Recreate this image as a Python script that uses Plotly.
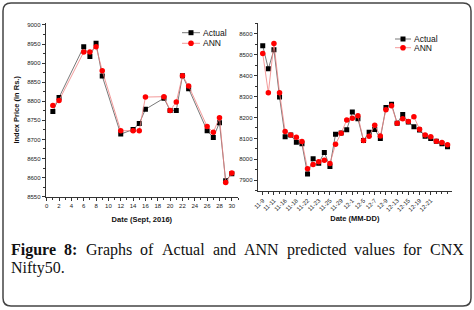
import plotly.graph_objects as go

W, H = 474, 310

# ---- Left chart data (Sept 2016) ----
sept_days = [1, 2, 6, 7, 8, 9, 12, 14, 15, 16, 19, 20, 21, 22, 23, 26, 27, 28, 29, 30]
sept_actual = [8773, 8810, 8943, 8917, 8952, 8866, 8714, 8726, 8742, 8779, 8808, 8776, 8776,
               8867, 8833, 8723, 8705, 8744, 8592, 8610]
sept_ann = [8789, 8802, 8929, 8929, 8943, 8880, 8723, 8723, 8723, 8811, 8812, 8776, 8798,
            8867, 8840, 8734, 8719, 8757, 8587, 8612]

# ---- Right chart data (Nov-Dec 2016) ----
nd_actual = [8543, 8433, 8524, 8298, 8108, 8116, 8082, 8074, 7930, 8003, 7981, 8033, 7966, 8120,
             8126, 8142, 8226, 8194, 8090, 8130, 8143, 8100, 8248, 8264, 8173, 8215, 8178, 8156,
             8140, 8110, 8100, 8086, 8075, 8060]
nd_ann = [8506, 8318, 8554, 8319, 8133, 8116, 8106, 8085, 7955, 7975, 7988, 7996, 7980, 8072,
          8125, 8188, 8197, 8208, 8090, 8110, 8163, 8112, 8237, 8256, 8173, 8194, 8181, 8204,
          8144, 8116, 8108, 8086, 8080, 8070]
nd_labels = ["11-9", "11-11", "11-16", "11-18", "11-22", "11-23", "11-25", "11-29",
             "12-1", "12-5", "12-7", "12-9", "12-13", "12-15", "12-19", "12-21"]
nd_index = list(range(len(nd_actual)))
series_names = ["Actual", "ANN"]


def px(x):
    return x / W


def py(y):
    return (H - y) / H


fig = go.Figure()

BLACK_LINE = "#555555"
RED_LINE = "#f08080"
black_line = dict(color=BLACK_LINE, width=0.8)
red_line = dict(color=RED_LINE, width=0.8)
black_marker = dict(symbol="square", size=5, color="black")
red_marker = dict(symbol="circle", size=5.5, color="#ff0000")

fig.add_trace(go.Scatter(x=sept_days, y=sept_actual, mode="lines+markers", name=series_names[0],
                         line=black_line, marker=black_marker, xaxis="x", yaxis="y"))
fig.add_trace(go.Scatter(x=sept_days, y=sept_ann, mode="lines+markers", name=series_names[1],
                         line=red_line, marker=red_marker, xaxis="x", yaxis="y"))
fig.add_trace(go.Scatter(x=nd_index, y=nd_actual, mode="lines+markers", name=series_names[0],
                         line=black_line, marker=black_marker, xaxis="x2", yaxis="y2"))
fig.add_trace(go.Scatter(x=nd_index, y=nd_ann, mode="lines+markers", name=series_names[1],
                         line=red_line, marker=red_marker, xaxis="x2", yaxis="y2"))

tickfont = dict(family="Liberation Sans, Arial", size=6, color="#222")
titlefont = dict(family="Liberation Sans, Arial", size=7.5, color="#111", weight="bold")

axis_common = dict(showline=True, linecolor="#333", linewidth=1, ticks="outside", ticklen=3,
                   tickcolor="#333", tickwidth=0.8, showgrid=False, zeroline=False,
                   tickfont=tickfont, mirror=False, automargin=False)

fig.update_layout(
    width=W, height=H, margin=dict(l=0, r=0, t=0, b=0),
    paper_bgcolor="white", plot_bgcolor="white", showlegend=False,
    xaxis=dict(domain=[px(45.7), px(238)], range=[-0.16, 31.0], dtick=2, tick0=0,
               minor=dict(dtick=1, ticks="outside", ticklen=2, tickcolor="#333"),
               title=dict(text="Date (Sept, 2016)", font=titlefont, standoff=8),
               anchor="y", **axis_common),
    yaxis=dict(domain=[py(196.7), py(23)], range=[8550, 9005], dtick=50, tick0=8550,
               minor=dict(dtick=25, ticks="outside", ticklen=2, tickcolor="#333"),
               title=dict(text="Index Price (in Rs.)", font=titlefont, standoff=6),
               anchor="x", **axis_common),
    xaxis2=dict(domain=[px(257.7), px(452)], range=[-0.9, 33.8],
                tickmode="array", tickvals=nd_index[0:32:2], ticktext=nd_labels, tickangle=-45,
                minor=dict(tickmode="array", tickvals=nd_index, ticks="outside", ticklen=2, tickcolor="#333"),
                title=dict(text="Date (MM-DD)", font=titlefont, standoff=4),
                anchor="y2", **axis_common),
    yaxis2=dict(domain=[py(190.7), py(23)], range=[7850, 8652], dtick=100, tick0=7900,
                minor=dict(dtick=50, ticks="outside", ticklen=2, tickcolor="#333"),
                anchor="x2", **axis_common),
)

# custom compact legends (line sample + marker + label)
legfont = dict(family="Liberation Sans, Arial", size=8.5, color="#111")


def add_legend(xl0, xl1, ys):
    xm = (xl0 + xl1) / 2
    for i, (name, lc) in enumerate(zip(series_names, [BLACK_LINE, RED_LINE])):
        y = ys[i]
        fig.add_shape(type="line", xref="paper", yref="paper", x0=px(xl0), x1=px(xl1),
                      y0=py(y), y1=py(y), line=dict(color=lc, width=0.8))
        if i == 0:
            fig.add_shape(type="rect", xref="paper", yref="paper", x0=px(xm - 2.5), x1=px(xm + 2.5),
                          y0=py(y + 2.5), y1=py(y - 2.5), fillcolor="black", line=dict(width=0))
        else:
            fig.add_shape(type="circle", xref="paper", yref="paper", x0=px(xm - 2.8), x1=px(xm + 2.8),
                          y0=py(y + 2.8), y1=py(y - 2.8), fillcolor="#ff0000", line=dict(width=0))
        fig.add_annotation(x=px(xl1 + 1.5), y=py(y), xref="paper", yref="paper", xanchor="left",
                           yanchor="middle", showarrow=False, font=legfont, text=name, borderpad=0)


add_legend(182, 200, [32.7, 43.3])
add_legend(395, 411, [39, 47.7])

# outer rounded frame
x0, y0, x1, y1, r = 3, 3, 471, 306, 8
path = (f"M {px(x0+r)},{py(y0)} L {px(x1-r)},{py(y0)} Q {px(x1)},{py(y0)} {px(x1)},{py(y0+r)} "
        f"L {px(x1)},{py(y1-r)} Q {px(x1)},{py(y1)} {px(x1-r)},{py(y1)} "
        f"L {px(x0+r)},{py(y1)} Q {px(x0)},{py(y1)} {px(x0)},{py(y1-r)} "
        f"L {px(x0)},{py(y0+r)} Q {px(x0)},{py(y0)} {px(x0+r)},{py(y0)} Z")
fig.add_shape(type="path", path=path, xref="paper", yref="paper",
              line=dict(color="#444", width=1.5))

# caption, first line justified word by word (Times metrics, 16px)
capfont = dict(family="Liberation Serif, Times New Roman, serif", size=16, color="#111")
cap_words = ["<b>Figure</b>", "<b>8:</b>", "Graphs", "of", "Actual", "and", "ANN", "predicted",
             "values", "for", "CNX"]
cap_widths = [45.3, 13.3, 46.2, 13.3, 42.7, 23.1, 34.7, 59.5, 40.9, 18.7, 33.8]
left, right = 10, 463
gap = (right - left - sum(cap_widths)) / (len(cap_words) - 1)
xw = left
for w_txt, w in zip(cap_words, cap_widths):
    fig.add_annotation(x=px(xw), y=py(250), xref="paper", yref="paper", xanchor="left",
                       yanchor="middle", showarrow=False, font=capfont, text=w_txt, borderpad=0)
    xw += w + gap
fig.add_annotation(x=px(10), y=py(268), xref="paper", yref="paper", xanchor="left", yanchor="middle",
                   showarrow=False, font=capfont, text="Nifty50.", borderpad=0)

fig.write_html("out.html", config={"displayModeBar": False},
               post_script="document.body.style.margin='0';"
                           "document.documentElement.style.overflow='hidden';")
